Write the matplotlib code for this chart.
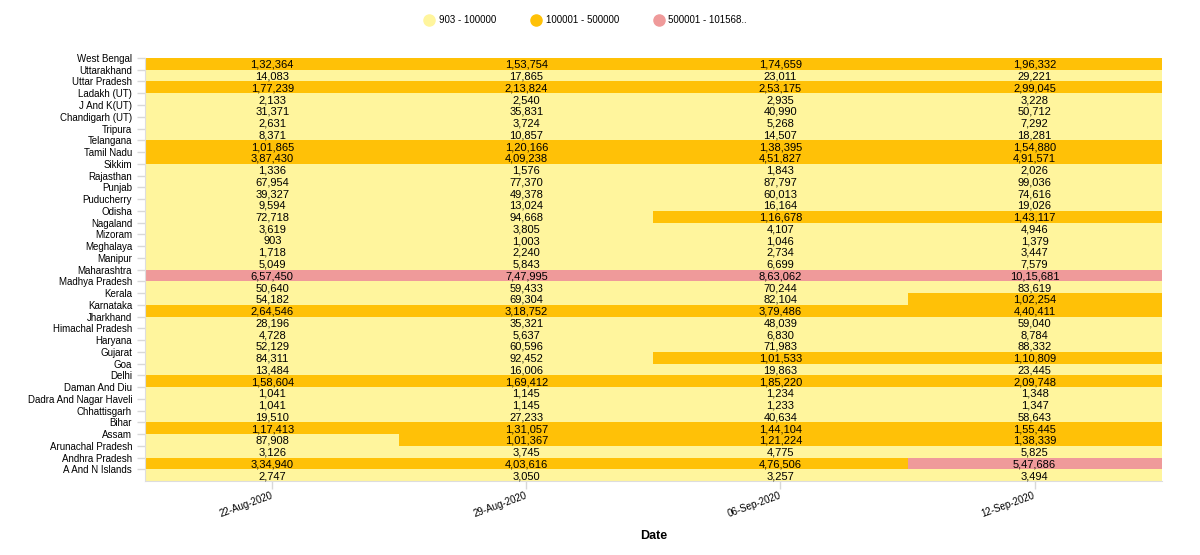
import matplotlib
matplotlib.use("Agg")
import matplotlib.pyplot as plt
import numpy as np
from matplotlib.colors import ListedColormap, BoundaryNorm
from matplotlib.lines import Line2D

plt.rcParams['font.family'] = ['Liberation Sans', 'DejaVu Sans']

# labels as they appear top to bottom
states = ['West Bengal', 'Uttarakhand', 'Uttar Pradesh', 'Ladakh (UT)', 'J And K(UT)',
          'Chandigarh (UT)', 'Tripura', 'Telangana', 'Tamil Nadu', 'Sikkim', 'Rajasthan',
          'Punjab', 'Puducherry', 'Odisha', 'Nagaland', 'Mizoram', 'Meghalaya', 'Manipur',
          'Maharashtra', 'Madhya Pradesh', 'Kerala', 'Karnataka', 'Jharkhand',
          'Himachal Pradesh', 'Haryana', 'Gujarat', 'Goa', 'Delhi', 'Daman And Diu',
          'Dadra And Nagar Haveli', 'Chhattisgarh', 'Bihar', 'Assam', 'Arunachal Pradesh',
          'Andhra Pradesh', 'A And N Islands']
dates = ['22-Aug-2020', '29-Aug-2020', '06-Sep-2020', '12-Sep-2020']

aug22 = [132364, 14083, 177239, 2133, 31371, 2631, 8371, 101865, 387430, 1336, 67954,
         39327, 9594, 72718, 3619, 903, 1718, 5049, 657450, 50640, 54182, 264546, 28196,
         4728, 52129, 84311, 13484, 158604, 1041, 1041, 19510, 117413, 87908, 3126,
         334940, 2747]
aug29 = [153754, 17865, 213824, 2540, 35831, 3724, 10857, 120166, 409238, 1576, 77370,
         49378, 13024, 94668, 3805, 1003, 2240, 5843, 747995, 59433, 69304, 318752, 35321,
         5637, 60596, 92452, 16006, 169412, 1145, 1145, 27233, 131057, 101367, 3745,
         403616, 3050]
sep06 = [174659, 23011, 253175, 2935, 40990, 5268, 14507, 138395, 451827, 1843, 87797,
         60013, 16164, 116678, 4107, 1046, 2734, 6699, 863062, 70244, 82104, 379486, 48039,
         6830, 71983, 101533, 19863, 185220, 1234, 1233, 40634, 144104, 121224, 4775,
         476506, 3257]
sep12 = [196332, 29221, 299045, 3228, 50712, 7292, 18281, 154880, 491571, 2026, 99036,
         74616, 19026, 143117, 4946, 1379, 3447, 7579, 1015681, 83619, 102254, 440411,
         59040, 8784, 88332, 110809, 23445, 209748, 1348, 1347, 58643, 155445, 138339,
         5825, 547686, 3494]

bins = [0, 100000, 500000, 2000000]
colors = ['#FFF59D', '#FFC107', '#EF9A9A']
legend_labels = ['903 - 100000', '100001 - 500000', '500001 - 101568..']


def lakh(n):
    s = str(n)
    if len(s) <= 3:
        return s
    head, tail = s[:-3], s[-3:]
    parts = []
    while len(head) > 2:
        parts.insert(0, head[-2:])
        head = head[:-2]
    if head:
        parts.insert(0, head)
    return ','.join(parts) + ',' + tail


vals = np.array([aug22, aug29, sep06, sep12]).T
nr, nc = vals.shape

fig = plt.figure(figsize=(12, 5.55), dpi=100)
ax = fig.add_axes([0.121, 0.1333, 0.847, 0.7622])

cmap = ListedColormap(colors)
norm = BoundaryNorm(bins, cmap.N)
ax.pcolormesh(np.arange(nc + 1), np.arange(nr + 1), vals, cmap=cmap, norm=norm)
ax.set_xlim(0, nc)
ax.set_ylim(nr, 0)

for i in range(nr):
    for j in range(nc):
        ax.text(j + 0.5, i + 0.58, lakh(vals[i, j]), ha='center', va='center',
                fontsize=8, color='black')

ax.set_yticks(np.arange(nr))
ax.set_yticklabels(states, fontsize=7)
ax.set_xticks(np.arange(nc) + 0.5)
ax.set_xticklabels(dates, fontsize=7, rotation=20, ha='right', va='center',
                   rotation_mode='anchor')
ax.tick_params(axis='both', color='#d8d8d8', length=6, width=1)
ax.tick_params(axis='x', pad=4)
for s in ['top', 'right']:
    ax.spines[s].set_visible(False)
for s in ['left', 'bottom']:
    ax.spines[s].set_color('#dddddd')
ax.set_xlabel('Date', fontsize=9, fontweight='bold', labelpad=8)

handles = [Line2D([], [], marker='o', linestyle='', markersize=8, color=c,
                  markeredgecolor=c) for c in colors]
fig.legend(handles, legend_labels, loc='center', bbox_to_anchor=(0.488, 0.964),
           ncol=3, frameon=False, fontsize=7, handletextpad=0.5, columnspacing=3.6,
           handlelength=1.0)

fig.savefig('out.png', dpi=100)
